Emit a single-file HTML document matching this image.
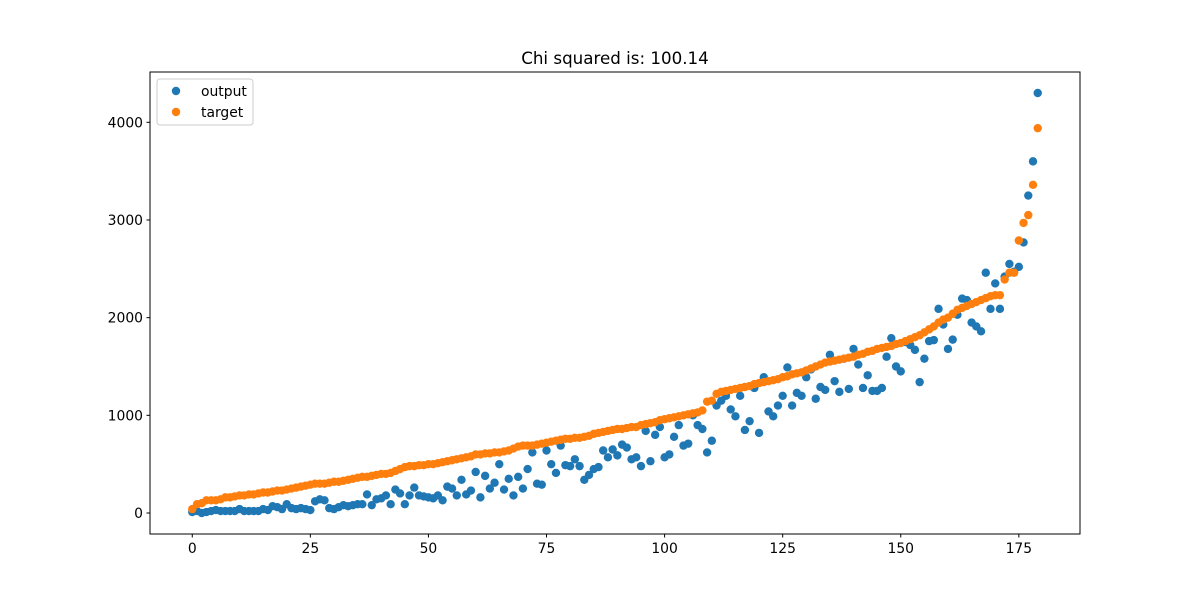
<!DOCTYPE html>
<html><head><meta charset="utf-8"><style>
body{margin:0;background:#fff;}
svg text{font-family:"DejaVu Sans","Liberation Sans",sans-serif;}
</style></head><body>
<svg id="chart" width="1200" height="600" xmlns="http://www.w3.org/2000/svg">
<rect width="1200" height="600" fill="#fff"/>
<text x="615" y="64" font-size="16.7" text-anchor="middle" fill="#000">Chi squared is: 100.14</text>
<g id="marks"></g>
<rect x="150" y="72" width="930" height="462" fill="none" stroke="#000" stroke-width="1"/>
<g id="axes"></g>
<g>
<rect x="157" y="79" width="96" height="46" rx="3" fill="#fff" fill-opacity="0.8" stroke="#ccc"/>
<circle cx="176" cy="91" r="4.2" fill="#1f77b4"/>
<text x="201" y="96" font-size="13.9">output</text>
<circle cx="176" cy="112" r="4.2" fill="#ff7f0e"/>
<text x="201" y="117" font-size="13.9">target</text>
</g>
</svg>
<script>
const outputValues=[10,20,0,10,20,30,20,20,20,20,
40,20,20,20,20,40,30,70,60,40,
90,50,40,50,40,30,120,140,130,50,
40,60,80,70,80,90,90,190,80,140,
150,180,90,240,200,90,180,260,180,170,
160,150,180,130,270,250,180,340,190,230,
420,160,380,250,310,500,240,350,180,370,
250,450,620,300,290,640,500,410,690,490,
480,550,480,340,390,450,470,640,570,650,
590,700,670,550,570,480,840,530,800,880,
570,600,780,900,690,710,1000,900,860,620,
740,1100,1150,1200,1060,990,1200,850,940,1280,
820,1390,1040,990,1100,1200,1490,1100,1230,1200,
1390,1470,1170,1290,1260,1620,1350,1240,1580,1270,
1680,1520,1280,1410,1250,1250,1280,1600,1790,1500,
1450,1750,1720,1670,1340,1580,1760,1770,2090,1930,
1680,1775,2030,2195,2180,1950,1910,1860,2460,2090,
2350,2090,2420,2550,2470,2520,2770,3250,3600,4300];
const targetValues=[40,90,100,130,130,130,140,160,160,170,
180,180,190,190,200,210,210,220,230,230,
240,250,260,270,280,290,300,300,300,310,
320,320,330,340,350,360,370,370,380,390,
400,400,410,430,450,470,480,480,490,490,
500,500,510,520,530,540,550,560,570,580,
600,600,610,610,620,620,630,640,660,680,
690,690,690,700,710,720,730,740,750,760,
760,770,770,780,790,810,820,830,840,850,
860,860,870,880,880,900,910,920,930,950,
960,970,980,990,1000,1010,1020,1030,1050,1140,
1150,1220,1240,1250,1260,1270,1280,1290,1300,1320,
1330,1340,1350,1360,1370,1390,1400,1420,1430,1440,
1460,1480,1500,1520,1540,1550,1560,1570,1580,1590,
1600,1620,1630,1650,1660,1680,1690,1700,1710,1730,
1740,1760,1780,1800,1820,1850,1880,1910,1950,1980,
2000,2040,2080,2100,2120,2140,2160,2180,2200,2220,
2230,2230,2390,2460,2460,2790,2970,3050,3360,3940];
const xTicks=[0,25,50,75,100,125,150,175];
const yTicks=[0,1000,2000,3000,4000];

const NS="http://www.w3.org/2000/svg";
const L=150,R=1080,T=72,B=534;
const n=Math.max(outputValues.length,targetValues.length);
const xMin=-(n-1)*0.05,xMax=(n-1)*1.05;
const all=outputValues.concat(targetValues);
const dMin=Math.min(...all),dMax=Math.max(...all),pad=(dMax-dMin)*0.05;
const yMin=dMin-pad,yMax=dMax+pad;
const sx=v=>L+(v-xMin)/(xMax-xMin)*(R-L);
const sy=v=>B-(v-yMin)/(yMax-yMin)*(B-T);
const marks=document.getElementById('marks');
function series(vals,color,name){
  vals.forEach((v,i)=>{
    const c=document.createElementNS(NS,'circle');
    c.setAttribute('cx',sx(i));c.setAttribute('cy',sy(v));c.setAttribute('r',4.2);c.setAttribute('fill',color);
    
    
    marks.appendChild(c);
  });
}
series(outputValues,'#1f77b4','output');
series(targetValues,'#ff7f0e','target');
const axes=document.getElementById('axes');
xTicks.forEach(t=>{
  const x=sx(t);
  const l=document.createElementNS(NS,'line');
  l.setAttribute('x1',x);l.setAttribute('x2',x);l.setAttribute('y1',B);l.setAttribute('y2',B+3.5);l.setAttribute('stroke','#000');
  
  
  axes.appendChild(l);
  const tx=document.createElementNS(NS,'text');
  tx.setAttribute('x',x);tx.setAttribute('y',B+19);tx.setAttribute('font-size','13.9');tx.setAttribute('text-anchor','middle');
  tx.textContent=t;
  
  
  axes.appendChild(tx);
});
yTicks.forEach(t=>{
  const y=sy(t);
  const l=document.createElementNS(NS,'line');
  l.setAttribute('x1',L-3.5);l.setAttribute('x2',L);l.setAttribute('y1',y);l.setAttribute('y2',y);l.setAttribute('stroke','#000');
  
  
  axes.appendChild(l);
  const tx=document.createElementNS(NS,'text');
  tx.setAttribute('x',L-7);tx.setAttribute('y',y+5);tx.setAttribute('font-size','13.9');tx.setAttribute('text-anchor','end');
  tx.textContent=t;
  
  
  axes.appendChild(tx);
});
</script>
</body></html>
